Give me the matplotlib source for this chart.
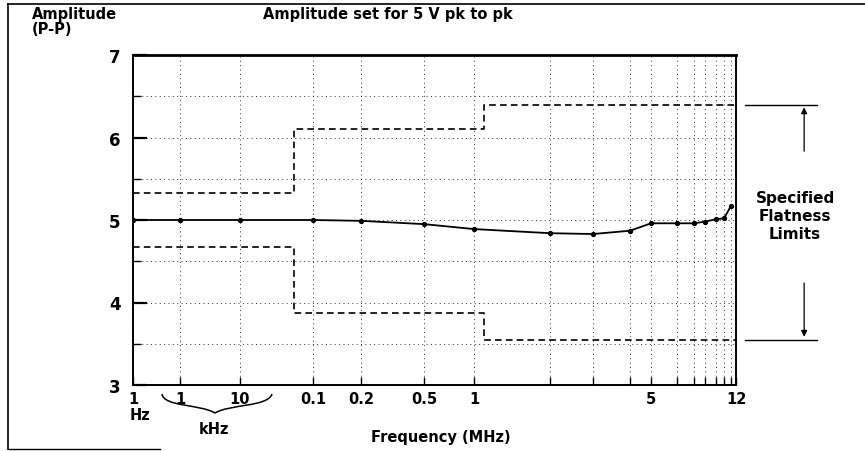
import numpy as np
import matplotlib
matplotlib.use("Agg")
import matplotlib.pyplot as plt
from matplotlib.lines import Line2D
from matplotlib.path import Path
from matplotlib.patches import PathPatch

# ---------------- data ----------------
freq_mhz = [1e-6, 1e-3, 1e-2, 0.1, 0.2, 0.5, 1, 2, 3, 4, 5, 6, 7, 8, 9, 10, 11]
amplitude = [5.00, 5.00, 5.00, 5.00, 4.99, 4.95, 4.89, 4.84, 4.83, 4.87,
             4.96, 4.96, 4.96, 4.98, 5.01, 5.02, 5.17]

limit_edges_mhz = [1e-6, 0.055, 1.1, 12]
upper_limit = [5.33, 6.10, 6.40]
lower_limit = [4.67, 3.87, 3.55]

xtick_vals = [1e-6, 1e-3, 1e-2, 0.1, 0.2, 0.5, 1, 5, 12]
xtick_labels = ["1", "1", "10", "0.1", "0.2", "0.5", "1", "5", "12"]
xminor_vals = [2, 3, 4, 6, 7, 8, 9, 10, 11]
ytick_vals = [3, 4, 5, 6, 7]

# ------------- axis scale (hand-drawn, piecewise logarithmic) -------------
anchor_f = np.array([1e-6, 1e-3, 1e-2, 0.1, 0.2, 0.5, 1, 2, 3, 4, 5, 6, 7, 8, 9, 10, 11, 12])
anchor_p = np.array([0, 47, 107, 180, 228, 291, 341, 417, 460, 497, 518, 544, 561, 572, 583, 591, 598, 603], float)
anchor_l = np.log10(anchor_f)

def fwd(f):
    f = np.asarray(f, float)
    lf = np.log10(np.clip(f, 1e-12, None))
    out = np.interp(lf, anchor_l, anchor_p)
    out = np.where(lf < anchor_l[0], anchor_p[0] + (lf - anchor_l[0]) * 15, out)
    out = np.where(lf > anchor_l[-1], anchor_p[-1] + (lf - anchor_l[-1]) * 150, out)
    return out

def inv(p):
    p = np.asarray(p, float)
    out = np.interp(p, anchor_p, anchor_l)
    out = np.where(p < anchor_p[0], anchor_l[0] + (p - anchor_p[0]) / 15, out)
    out = np.where(p > anchor_p[-1], anchor_l[-1] + (p - anchor_p[-1]) / 150, out)
    return 10 ** out

# ---------------- figure ----------------
fig = plt.figure(figsize=(8.65, 4.52), dpi=100)
W, H = 865, 452
ax = fig.add_axes([133 / W, 1 - 386 / H, 603 / W, 330 / H])
ax.set_xscale("function", functions=(fwd, inv))
ax.set_xlim(1e-6, 12)
ax.set_ylim(3, 7)

# grid
ax.set_xticks(xtick_vals)
ax.set_xticklabels(xtick_labels, fontsize=10.5, fontweight="bold")
ax.set_xticks(xminor_vals, minor=True)
ax.set_xticklabels([], minor=True)
ax.set_yticks(ytick_vals)
ax.set_yticklabels([str(v) for v in ytick_vals], fontsize=12, fontweight="bold")
ax.set_yticks(np.arange(3.5, 7, 1.0), minor=True)
ax.set_yticklabels([], minor=True)
ax.grid(True, which="both", color="black", linestyle=(0, (1, 3.5)), linewidth=0.7, alpha=0.8)
ax.tick_params(axis="x", which="both", direction="in", length=6, width=1, pad=4, top=False)
ax.tick_params(axis="y", which="major", direction="in", length=10, width=1.6, pad=9)
ax.tick_params(axis="y", which="minor", direction="in", length=6, width=1.0)
for s in ax.spines.values():
    s.set_linewidth(1.4)
ax.spines["top"].set_linewidth(2.0)

# limits (dashed steps)
ax.plot(limit_edges_mhz, upper_limit + [upper_limit[-1]], drawstyle="steps-post",
        color="black", linestyle=(0, (4, 2.5)), linewidth=1.2)
ax.plot(limit_edges_mhz, lower_limit + [lower_limit[-1]], drawstyle="steps-post",
        color="black", linestyle=(0, (4, 2.5)), linewidth=1.2)

# measured response
ax.plot(freq_mhz, amplitude, color="black", linewidth=1.3, marker="o", markersize=2.8)

# ---------------- right-hand annotation ----------------
tr = ax.get_yaxis_transform()
for yv in (upper_limit[-1], lower_limit[-1]):
    ax.add_line(Line2D([1.015, 1.135], [yv, yv], transform=tr, color="black",
                       linewidth=1.0, clip_on=False))
ax.annotate("", xy=(1.113, upper_limit[-1]), xytext=(1.113, 5.8), xycoords=tr, textcoords=tr,
            arrowprops=dict(arrowstyle="-|>", color="black", lw=0.9, mutation_scale=9))
ax.annotate("", xy=(1.113, lower_limit[-1]), xytext=(1.113, 4.27), xycoords=tr, textcoords=tr,
            arrowprops=dict(arrowstyle="-|>", color="black", lw=0.9, mutation_scale=9))
ax.text(1.098, 5.05, "Specified\nFlatness\nLimits", transform=tr, ha="center", va="center",
        fontsize=11, fontweight="bold", linespacing=1.25)

# ---------------- bottom labels ----------------
ax.text(0.012, -0.088, "Hz", transform=ax.transAxes, ha="center", va="center",
        fontsize=10.5, fontweight="bold")
ax.text(0.134, -0.133, "kHz", transform=ax.transAxes, ha="center", va="center",
        fontsize=10.5, fontweight="bold")
ax.text(0.51, -0.155, "Frequency (MHz)", transform=ax.transAxes, ha="center", va="center",
        fontsize=10.5, fontweight="bold")

# brace under kHz values
def px(x, y):
    return ((x - 133) / 603, (386 - y) / 330)

verts = [px(162, 395), px(164, 408), px(200, 405), px(215, 414),
         px(230, 405), px(268, 408), px(272, 395)]
codes = [Path.MOVETO, Path.CURVE4, Path.CURVE4, Path.CURVE4,
         Path.CURVE4, Path.CURVE4, Path.CURVE4]
ax.add_patch(PathPatch(Path(verts, codes), transform=ax.transAxes, facecolor="none",
                       edgecolor="black", linewidth=1.1, clip_on=False))

# ---------------- top texts ----------------
fig.text(388 / W, 1 - 14 / H, "Amplitude set for 5 V pk to pk", ha="center", va="center",
         fontsize=10.5, fontweight="bold")
fig.text(32 / W, 1 - 14 / H, "Amplitude", ha="left", va="center", fontsize=10.5, fontweight="bold")
fig.text(32 / W, 1 - 30 / H, "(P-P)", ha="left", va="center", fontsize=10.5, fontweight="bold")

# scanned-page frame
fig.add_artist(Line2D([8 / W, 8 / W], [1 - 5 / H, 1 - 450 / H], transform=fig.transFigure,
                      color="black", linewidth=1.2))
fig.add_artist(Line2D([8 / W, 1.0], [1 - 5 / H, 1 - 5 / H], transform=fig.transFigure,
                      color="black", linewidth=1.2))
fig.add_artist(Line2D([8 / W, 160 / W], [1 - 450 / H, 1 - 450 / H], transform=fig.transFigure,
                      color="black", linewidth=1.0))

fig.savefig("out.png", dpi=100)
